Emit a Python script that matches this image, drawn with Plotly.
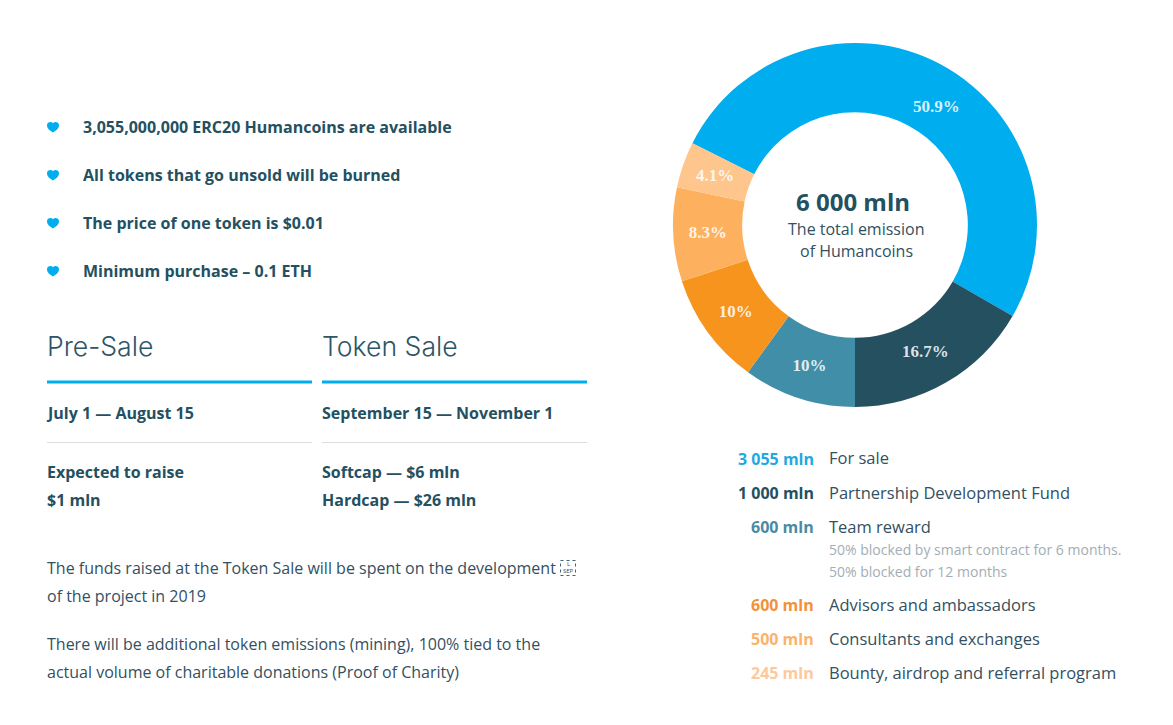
import plotly.graph_objects as go

W, H = 1173, 725

# --- data ---
slice_names = ['For sale', 'Partnership Development Fund', 'Team reward',
               'Advisors and ambassadors', 'Consultants and exchanges',
               'Bounty, airdrop and referral program']
slice_values = [3055, 1000, 600, 600, 500, 245]
slice_labels = ['', '', '10%', '10%', '8.3%', '']
slice_colors = ['#00adee', '#24505f', '#418ea9', '#f7941e', '#fdb15f', '#fec68c']
amount_labels = ['3 055 mln', '1 000 mln', '600 mln', '600 mln', '500 mln', '245 mln']
amount_colors = ['#1fa9e1', '#24505f', '#4a8aa3', '#f29138', '#fbb26a', '#fdc99b']

bullets = ['3,055,000,000 ERC20 Humancoins are available',
           'All tokens that go unsold will be burned',
           'The price of one token is $0.01',
           'Minimum purchase – 0.1 ETH']

DARK = '#24505f'
TEXT = '#33505f'
GREY = '#a3adb4'
BLUE = '#00adee'
PCT = 'rgba(255,255,255,0.85)'


def px(x):
    return x / W


def py(y):
    return 1 - y / H


annotations = []
shapes = []


def label(x, y, s, size=16, color=DARK, weight=700, anchor='left', family='Open Sans'):
    annotations.append(dict(
        x=px(x), y=py(y), xref='paper', yref='paper', text=s, showarrow=False,
        xanchor=anchor, yanchor='middle', borderpad=0, borderwidth=0,
        font=dict(family=family, size=size, color=color, weight=weight),
    ))


def line(x0, x1, y, color, width):
    shapes.append(dict(type='line', xref='paper', yref='paper',
                       x0=px(x0), x1=px(x1), y0=py(y), y1=py(y),
                       line=dict(color=color, width=width)))


def heart(cx, cy):
    pts = 'M{} {} C{} {} {} {} {} {} C{} {} {} {} {} {} C{} {} {} {} {} {} C{} {} {} {} {} {} Z'
    offs = [(0, 5.5),
            (-3, 3.5), (-6, 1.5), (-6, -1.8),
            (-6, -4.6), (-2, -6), (0, -3.8),
            (2, -6), (6, -4.6), (6, -1.8),
            (6, 1.5), (3, 3.5), (0, 5.5)]
    vals = []
    for dx, dy in offs:
        vals += [round(px(cx + dx), 5), round(py(cy + dy), 5)]
    shapes.append(dict(type='path', xref='paper', yref='paper', path=pts.format(*vals),
                       fillcolor=BLUE, line=dict(width=0)))


# --- bullets ---
for s, y in zip(bullets, [127, 175, 223, 271]):
    heart(53, y)
    label(83, y, s)

# --- sale columns ---
label(47, 346, 'Pre-Sale', size=26.6, color='#2f5566', weight=300, family='Inter')
label(322, 346, 'Token Sale', size=26.6, color='#2f5566', weight=300, family='Inter')
line(47, 312, 382, BLUE, 3)
line(322, 587, 382, BLUE, 3)
label(46, 413, 'July 1 — August 15')
label(322, 413, 'September 15 — November 1')
line(47, 312, 442.5, '#dddddd', 1)
line(322, 587, 442.5, '#dddddd', 1)
label(47, 472, 'Expected to raise')
label(47, 500, '$1 mln')
label(322, 472, 'Softcap — $6 mln')
label(322, 500, 'Hardcap — $26 mln')

# --- paragraphs ---
label(47, 568, 'The funds raised at the Token Sale will be spent on the development', color=TEXT, weight=400)
label(47, 596, 'of the project in 2019', color=TEXT, weight=400)
label(47, 644, 'There will be additional token emissions (mining), 100% tied to the', color=TEXT, weight=400)
label(47, 672, 'actual volume of charitable donations (Proof of Charity)', color=TEXT, weight=400)

# broken line separator glyph
shapes.append(dict(type='rect', xref='paper', yref='paper',
                   x0=px(560.5), x1=px(575.5), y0=py(560.5), y1=py(575.5),
                   line=dict(color='#4a6370', width=1, dash='dot')))
label(568, 564, 'L', size=6, color=TEXT, weight=400, anchor='center')
label(568, 571, 'SEP', size=6, color=TEXT, weight=400, anchor='center')

# --- donut centre ---
label(853, 202, '6 000 mln', size=24, anchor='center')
label(856, 229, 'The total emission', color=TEXT, weight=400, anchor='center')
label(856, 251, 'of Humancoins', color=TEXT, weight=400, anchor='center')

# --- slice labels the pie would not put where the original has them ---
label(936, 106, '50.9%', size=17, color=PCT, anchor='center', family='Liberation Serif')
label(925, 352, '16.7%', size=17, color=PCT, anchor='center', family='Liberation Serif')
label(715, 176, '4.1%', size=17, color=PCT, anchor='center', family='Liberation Serif')

# --- legend ---
row_y = [459, 493, 527, 605, 639, 673]
for amt, col, name, y in zip(amount_labels, amount_colors, slice_names, row_y):
    label(814, y, amt, color=col, anchor='right')
    label(828.5, y - 1, name, size=16.5, color=TEXT, weight=500)
label(828.5, 549, '50% blocked by smart contract for 6 months.', size=14, color=GREY, weight=400)
label(828.5, 571, '50% blocked for 12 months', size=14, color=GREY, weight=400)

fig = go.Figure(go.Pie(
    labels=slice_names,
    values=slice_values,
    text=slice_labels,
    textinfo='text',
    textposition='inside',
    insidetextorientation='horizontal',
    textfont=dict(family='Liberation Serif', size=17, color=PCT, weight=700),
    marker=dict(colors=slice_colors, line=dict(width=0)),
    hole=0.62,
    sort=False,
    direction='clockwise',
    rotation=-63.3,
    showlegend=False,
    domain=dict(x=[px(673), px(1037)], y=[py(407), py(43)]),
))

fig.update_layout(
    width=W, height=H,
    margin=dict(l=0, r=0, t=0, b=0),
    paper_bgcolor='white',
    annotations=annotations,
    shapes=shapes,
)

fig.write_html('out.html', config=dict(displayModeBar=False),
               post_script="document.body.style.margin='0';")
